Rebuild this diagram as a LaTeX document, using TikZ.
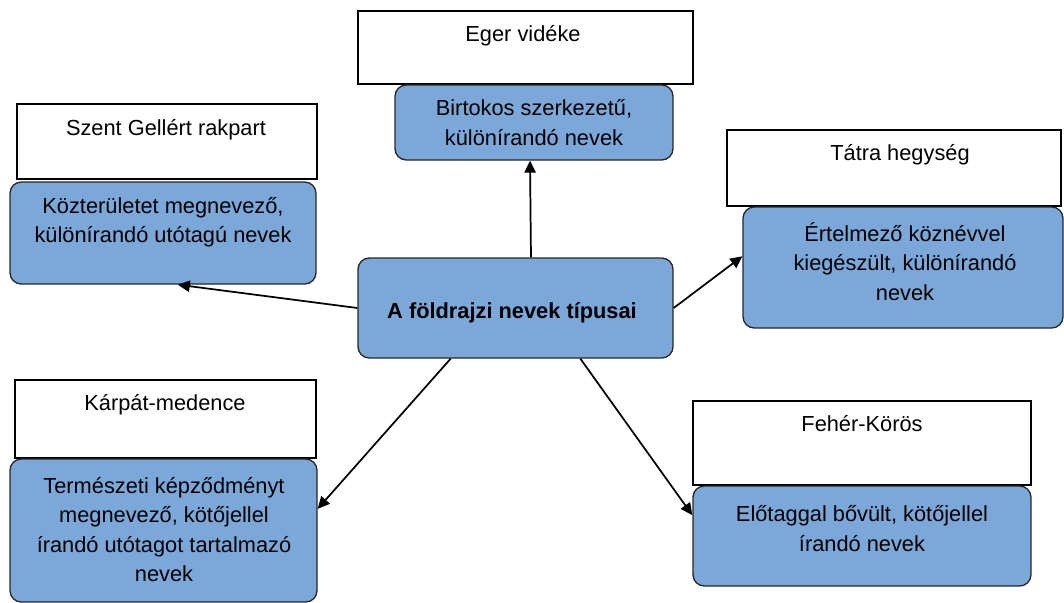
\documentclass[tikz,border=0pt]{standalone}
\usepackage{fontspec}
\setmainfont{Liberation Sans}
\usetikzlibrary{arrows.meta}
\definecolor{boxblue}{RGB}{123,167,217}
\definecolor{edgegray}{RGB}{40,40,40}
\begin{document}
\begin{tikzpicture}[x=0.75pt,y=-0.75pt,
  txt/.style={font=\fontsize{16.35}{22}\selectfont, inner sep=0pt, align=center, text=black},
  wbox/.style={draw=black, line width=0.9pt, fill=white, inner sep=0pt},
  bbox/.style={draw=edgegray, line width=1pt, fill=boxblue, rounded corners=8.5pt, inner sep=0pt},
  arr/.style={draw=black, line width=1.3pt, -{Triangle[length=9pt,width=8.5pt]}}]
\useasboundingbox (0,0) rectangle (1064,603);

% white label boxes
\node[wbox, minimum width=251.25pt, minimum height=54.75pt] (ew) at (525.5,47.5) {};
\node[wbox, minimum width=225pt, minimum height=56.25pt] (sw) at (167,141.5) {};
\node[wbox, minimum width=250.5pt, minimum height=57pt] (tw) at (894,168) {};
\node[wbox, minimum width=225.75pt, minimum height=58.5pt] (kw) at (165.5,419) {};
\node[wbox, minimum width=253.5pt, minimum height=63pt] (fw) at (862,443) {};

% blue boxes
\node[bbox, minimum width=208.5pt, minimum height=56.25pt] (eb) at (534,122.5) {};
\node[bbox, minimum width=229.5pt, minimum height=76.5pt] (sb) at (163,233) {};
\node[bbox, minimum width=236.25pt, minimum height=75pt] (c) at (515.5,308) {};
\node[bbox, minimum width=240pt, minimum height=90.75pt] (tb) at (903,267.5) {};
\node[bbox, minimum width=230.25pt, minimum height=107.25pt] (kb) at (163.5,530.5) {};
\node[bbox, minimum width=253.5pt, minimum height=75pt] (fb) at (862,536) {};

% texts
\node[txt, anchor=base] (ewt) at (523,41) {Eger vidéke};
\node[txt, anchor=base] (swt) at (166,135) {Szent Gellért rakpart};
\node[txt, anchor=base] (twt) at (900,160) {Tátra hegység};
\node[txt, anchor=base] (kwt) at (165,410) {Kárpát-medence};
\node[txt, anchor=base] (fwt) at (862,431) {Fehér-Körös};

\node[txt] (ebt) at (534,122.5) {Birtokos szerkezetű,\\különírandó nevek};
\node[txt] (sbt) at (163,222) {Közterületet megnevező,\\különírandó utótagú nevek};
\node[txt, font=\fontsize{16.35}{22}\selectfont\bfseries, anchor=base] (ct) at (512,318) {A földrajzi nevek típusai};
\node[txt] (tbt) at (905,261.5) {Értelmező köznévvel\\kiegészült, különírandó\\nevek};
\node[txt] (kbt) at (164,529.5) {Természeti képződményt\\megnevező, kötőjellel\\írandó utótagot tartalmazó\\nevek};
\node[txt] (fbt) at (862,528.5) {Előtaggal bővült, kötőjellel\\írandó nevek};

% connectors
\draw[arr] (c.73.8) -- (eb.264.1);
\draw[arr] (c.180) -- (sb.286.4);
\draw[arr] (c.0) -- (tb.176.6);
\draw[arr] (c.218.2) -- (kb.8.3);
\draw[arr] (c.322.2) -- (fb.173.6);
\end{tikzpicture}
\end{document}
